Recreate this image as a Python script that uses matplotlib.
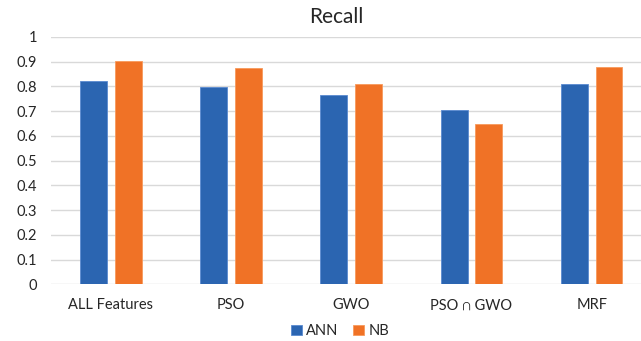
import numpy as np
import matplotlib.pyplot as plt

plt.rcParams['font.family'] = ['Lato', 'DejaVu Sans']

methods = ['ALL Features', 'PSO', 'GWO', 'PSO \u2229 GWO', 'MRF']
ann = [0.823, 0.798, 0.765, 0.706, 0.810]
nb = [0.905, 0.873, 0.810, 0.650, 0.878]
yticks = [0, 0.1, 0.2, 0.3, 0.4, 0.5, 0.6, 0.7, 0.8, 0.9, 1]
ytick_labels = ['0', '0.1', '0.2', '0.3', '0.4', '0.5', '0.6', '0.7', '0.8', '0.9', '1']

blue = '#2B65B1'
orange = '#F07226'

fig = plt.figure(figsize=(6.41, 3.41), dpi=100)
ax = fig.add_axes([0.079, 0.166, 0.921, 0.7255])

x = np.arange(len(methods))
w = 0.224
off = 0.144
ax.bar(x - off, ann, w, color=blue, edgecolor='#5A8AD0', linewidth=0.6, label='ANN', zorder=3)
ax.bar(x + off, nb, w, color=orange, edgecolor='#F89A5C', linewidth=0.6, label='NB', zorder=3)

ax.set_xlim(-0.5, 4.41)
ax.set_ylim(0, 1)
ax.set_yticks(yticks)
ax.set_yticklabels(ytick_labels)
ax.set_xticks(x)
ax.set_xticklabels(methods)
ax.grid(axis='y', color='#D9D9D9', linewidth=1, zorder=0)
for s in ax.spines.values():
    s.set_visible(False)
ax.tick_params(axis='both', length=0, labelsize=10.5, colors='#262626')
ax.tick_params(axis='y', pad=10)
ax.tick_params(axis='x', pad=10)

fig.text(336 / 641, 1 - 17 / 341, 'Recall', ha='center', va='center',
         fontsize=15, color='#262626')

fig.legend(loc='center', bbox_to_anchor=(340 / 641, 1 - 331 / 341), ncol=2,
           frameon=False, fontsize=10.5, handlelength=0.75, handleheight=0.75,
           handletextpad=0.3, columnspacing=1.0, labelcolor='#262626')

fig.savefig('out.png', dpi=100)
